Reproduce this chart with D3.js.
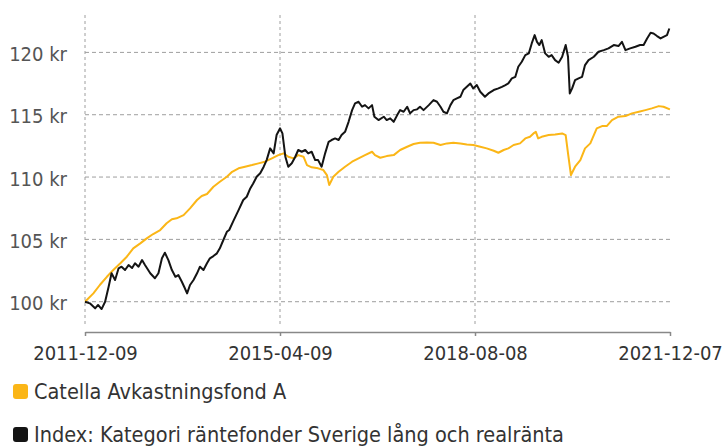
<!DOCTYPE html>
<html>
<head>
<meta charset="utf-8">
<script src="https://cdn.jsdelivr.net/npm/d3@7"></script>
<style>
  body { margin: 0; background: #fff; }
  svg { display: block; font-family: 'DejaVu Sans Condensed', 'DejaVu Sans', sans-serif; font-stretch: condensed; }
</style>
</head>
<body>
<div id="viz"></div>
<script>
// dates as decimal years, values in kr
const catellaDates = [2011.937, 2012.08, 2012.19, 2012.31, 2012.42, 2012.54, 2012.65, 2012.76, 2012.88, 2012.99,
  2013.10, 2013.22, 2013.33, 2013.42, 2013.50, 2013.62, 2013.73, 2013.85, 2013.93, 2014.02,
  2014.13, 2014.24, 2014.36, 2014.45, 2014.56, 2014.67, 2014.79, 2014.90, 2015.01, 2015.13,
  2015.24, 2015.33, 2015.41, 2015.50, 2015.58, 2015.67, 2015.73, 2015.81, 2015.92, 2016.01,
  2016.07, 2016.11, 2016.18, 2016.27, 2016.38, 2016.50, 2016.61, 2016.72, 2016.84, 2016.89,
  2016.98, 2017.09, 2017.21, 2017.32, 2017.44, 2017.55, 2017.66, 2017.78, 2017.89, 2018.01,
  2018.12, 2018.23, 2018.35, 2018.46, 2018.57, 2018.69, 2018.80, 2018.92, 2019.00, 2019.09,
  2019.17, 2019.26, 2019.37, 2019.46, 2019.54, 2019.60, 2019.64, 2019.68, 2019.74, 2019.86,
  2019.97, 2020.09, 2020.15, 2020.19, 2020.24, 2020.31, 2020.40, 2020.48, 2020.57, 2020.68,
  2020.77, 2020.85, 2020.94, 2021.05, 2021.17, 2021.28, 2021.40, 2021.51, 2021.62, 2021.74,
  2021.82, 2021.93];
const catellaValues = [100.00, 100.67, 101.34, 102.00, 102.54, 103.08, 103.61, 104.28, 104.68, 105.08,
  105.43, 105.75, 106.29, 106.61, 106.69, 106.95, 107.49, 108.16, 108.48, 108.64,
  109.22, 109.62, 110.02, 110.42, 110.70, 110.83, 110.96, 111.10, 111.23, 111.50,
  111.76, 111.90, 111.63, 111.50, 111.76, 111.63, 110.96, 110.78, 110.70, 110.56,
  110.16, 109.36, 110.02, 110.42, 110.83, 111.23, 111.50, 111.76, 112.03, 111.76,
  111.55, 111.68, 111.76, 112.17, 112.43, 112.65, 112.75, 112.78, 112.75, 112.57,
  112.70, 112.75, 112.70, 112.62, 112.57, 112.43, 112.30, 112.11, 111.95, 112.17,
  112.30, 112.57, 112.70, 113.10, 113.23, 113.50, 113.63, 113.10, 113.23, 113.37,
  113.42, 113.50, 113.37, 111.90, 110.16, 110.83, 111.36, 112.30, 112.70, 113.91,
  114.09, 114.09, 114.57, 114.84, 114.89, 115.11, 115.24, 115.37, 115.51, 115.69,
  115.64, 115.43];

const indexDates = [2011.937, 2012.02, 2012.11, 2012.16, 2012.22, 2012.28, 2012.34, 2012.39, 2012.45, 2012.51,
  2012.56, 2012.62, 2012.68, 2012.74, 2012.79, 2012.85, 2012.91, 2012.96, 2013.05, 2013.13,
  2013.19, 2013.25, 2013.30, 2013.36, 2013.42, 2013.48, 2013.53, 2013.59, 2013.63, 2013.68,
  2013.73, 2013.79, 2013.85, 2013.90, 2013.96, 2014.02, 2014.07, 2014.13, 2014.19, 2014.24,
  2014.30, 2014.36, 2014.40, 2014.47, 2014.56, 2014.64, 2014.70, 2014.76, 2014.81, 2014.87,
  2014.93, 2014.99, 2015.04, 2015.10, 2015.16, 2015.21, 2015.27, 2015.31, 2015.36, 2015.41,
  2015.47, 2015.53, 2015.58, 2015.64, 2015.70, 2015.75, 2015.81, 2015.87, 2015.92, 2015.98,
  2016.04, 2016.10, 2016.15, 2016.21, 2016.27, 2016.32, 2016.38, 2016.44, 2016.50, 2016.55,
  2016.61, 2016.67, 2016.72, 2016.78, 2016.84, 2016.88, 2016.95, 2017.04, 2017.09, 2017.15,
  2017.21, 2017.27, 2017.32, 2017.38, 2017.44, 2017.49, 2017.55, 2017.61, 2017.66, 2017.72,
  2017.81, 2017.89, 2017.95, 2018.01, 2018.06, 2018.12, 2018.18, 2018.23, 2018.29, 2018.35,
  2018.40, 2018.46, 2018.52, 2018.57, 2018.63, 2018.69, 2018.77, 2018.83, 2018.92, 2019.00,
  2019.06, 2019.12, 2019.17, 2019.23, 2019.29, 2019.34, 2019.40, 2019.46, 2019.52, 2019.57,
  2019.62, 2019.66, 2019.70, 2019.74, 2019.80, 2019.86, 2019.91, 2019.97, 2020.03, 2020.09,
  2020.15, 2020.19, 2020.22, 2020.26, 2020.31, 2020.37, 2020.43, 2020.48, 2020.54, 2020.63,
  2020.71, 2020.80, 2020.88, 2020.97, 2021.05, 2021.11, 2021.17, 2021.25, 2021.34, 2021.42,
  2021.48, 2021.54, 2021.60, 2021.65, 2021.71, 2021.77, 2021.82, 2021.88, 2021.92];
const indexValues = [100.00, 99.87, 99.47, 99.74, 99.41, 100.00, 101.20, 102.28, 101.74, 102.68,
  102.81, 102.54, 102.94, 102.70, 103.08, 102.81, 103.34, 102.94, 102.28, 101.88,
  102.28, 103.48, 103.93, 103.34, 102.54, 102.00, 102.14, 101.60, 101.20, 100.67,
  101.34, 101.74, 102.28, 102.81, 102.54, 103.08, 103.48, 103.66, 103.88, 104.28,
  104.95, 105.61, 105.75, 106.47, 107.35, 108.16, 108.42, 109.09, 109.49, 110.02,
  110.30, 110.83, 111.36, 112.30, 111.90, 113.37, 113.91, 113.50, 111.63, 110.83,
  111.10, 111.63, 112.17, 112.03, 112.17, 111.90, 112.03, 111.36, 111.36, 110.83,
  111.90, 112.83, 112.97, 113.10, 112.97, 113.37, 113.63, 114.43, 115.37, 115.91,
  116.04, 115.64, 115.77, 115.51, 115.77, 114.84, 114.57, 114.84, 114.57, 114.71,
  114.43, 114.97, 115.37, 115.24, 115.64, 115.11, 115.37, 115.43, 115.64, 115.37,
  115.77, 116.17, 116.04, 115.64, 115.24, 115.11, 115.77, 116.17, 116.31, 116.44,
  116.98, 117.24, 117.51, 117.11, 117.38, 116.84, 116.44, 116.71, 116.98, 117.11,
  117.24, 117.38, 117.51, 117.91, 118.04, 118.85, 119.25, 119.78, 119.92, 120.72,
  121.39, 120.85, 120.59, 120.99, 119.92, 119.65, 119.78, 119.38, 119.17, 119.65,
  120.59, 119.65, 116.71, 117.11, 117.78, 117.92, 118.04, 118.98, 119.38, 119.65,
  120.05, 120.18, 120.32, 120.59, 120.51, 120.85, 120.18, 120.32, 120.45, 120.59,
  120.59, 121.12, 121.57, 121.52, 121.31, 121.12, 121.25, 121.39, 121.92];

const xTickLabels = ['2011-12-09', '2015-04-09', '2018-08-08', '2021-12-07'];
const yTicks = [100, 105, 110, 115, 120];
const seriesNames = ['Catella Avkastningsfond A', 'Index: Kategori räntefonder Sverige lång och realränta'];
const seriesColors = ['#fbb617', '#141414'];

const parseDate = d3.utcParse('%Y-%m-%d');
const toDate = t => {
  const y = Math.floor(t);
  const a = Date.UTC(y, 0, 1), b = Date.UTC(y + 1, 0, 1);
  return new Date(a + (t - y) * (b - a));
};

const W = 724, H = 446;
const margin = { top: 15, left: 85, right: 54, bottom: 114 };
const width = W - margin.left - margin.right;
const height = H - margin.top - margin.bottom;

const svg = d3.select('#viz').append('svg')
  .attr('width', W).attr('height', H);

const xTicks = xTickLabels.map(parseDate);
const x = d3.scaleUtc().domain([xTicks[0], xTicks[xTicks.length - 1]]).range([margin.left, margin.left + width]);
const y = d3.scaleLinear().domain([97.57, 123]).range([margin.top + height, margin.top]);

// horizontal grid
svg.append('g')
  .selectAll('line')
  .data(yTicks)
  .join('line')
  .attr('x1', margin.left).attr('x2', margin.left + width)
  .attr('y1', d => y(d)).attr('y2', d => y(d))
  .attr('stroke', '#9e9e9e')
  .attr('stroke-width', 1)
  .attr('stroke-dasharray', '4,3');

// vertical grid (all ticks except the last)
svg.append('g')
  .selectAll('line')
  .data(xTicks.slice(0, -1))
  .join('line')
  .attr('x1', d => x(d)).attr('x2', d => x(d))
  .attr('y1', margin.top).attr('y2', margin.top + height - 6)
  .attr('stroke', '#9e9e9e')
  .attr('stroke-width', 1)
  .attr('stroke-dasharray', '3,3');

// y labels
svg.append('g')
  .selectAll('text')
  .data(yTicks)
  .join('text')
  .attr('x', 67)
  .attr('y', d => y(d) + 3)
  .attr('text-anchor', 'end')
  .attr('dominant-baseline', 'middle')
  .attr('fill', '#555')
  .style('font-size', '20px')
  .text(d => `${d} kr`);

// x axis
const xAxis = svg.append('g')
  .attr('transform', `translate(0,${margin.top + height})`)
  .call(d3.axisBottom(x).tickValues(xTicks).tickSize(4).tickSizeOuter(0).tickFormat(d3.utcFormat('%Y-%m-%d')));
xAxis.select('.domain').attr('stroke', '#888').attr('stroke-width', 1.5);
xAxis.selectAll('.tick line').attr('stroke', '#888').attr('stroke-width', 1.5);
xAxis.selectAll('.tick text')
  .attr('y', 14)
  .attr('fill', '#333')
  .style('font-family', "'DejaVu Sans Condensed', 'DejaVu Sans', sans-serif")
  .style('font-size', '20px');

// lines
const line = d3.line()
  .x(d => x(d.date))
  .y(d => y(d.value));

const catella = catellaDates.map((t, i) => ({ date: toDate(t), value: catellaValues[i] }));
const index = indexDates.map((t, i) => ({ date: toDate(t), value: indexValues[i] }));

[catella, index].forEach((s, i) => {
  svg.append('path')
    .datum(s)
    .attr('d', line)
    .attr('fill', 'none')
    .attr('stroke', seriesColors[i])
    .attr('stroke-width', 2)
    .attr('stroke-linejoin', 'round');
});

// legend
const legend = svg.append('g');
seriesNames.forEach((name, i) => {
  const row = legend.append('g')
    .attr('transform', `translate(13,${384 + i * 43})`);
  row.append('rect')
    .attr('width', 15).attr('height', 15)
    .attr('rx', 3).attr('ry', 3)
    .attr('fill', seriesColors[i]);
  row.append('text')
    .attr('x', 21).attr('y', 14.5)
    .attr('fill', '#333')
    .style('font-size', '21.5px')
    .text(name);
});
</script>
</body>
</html>
